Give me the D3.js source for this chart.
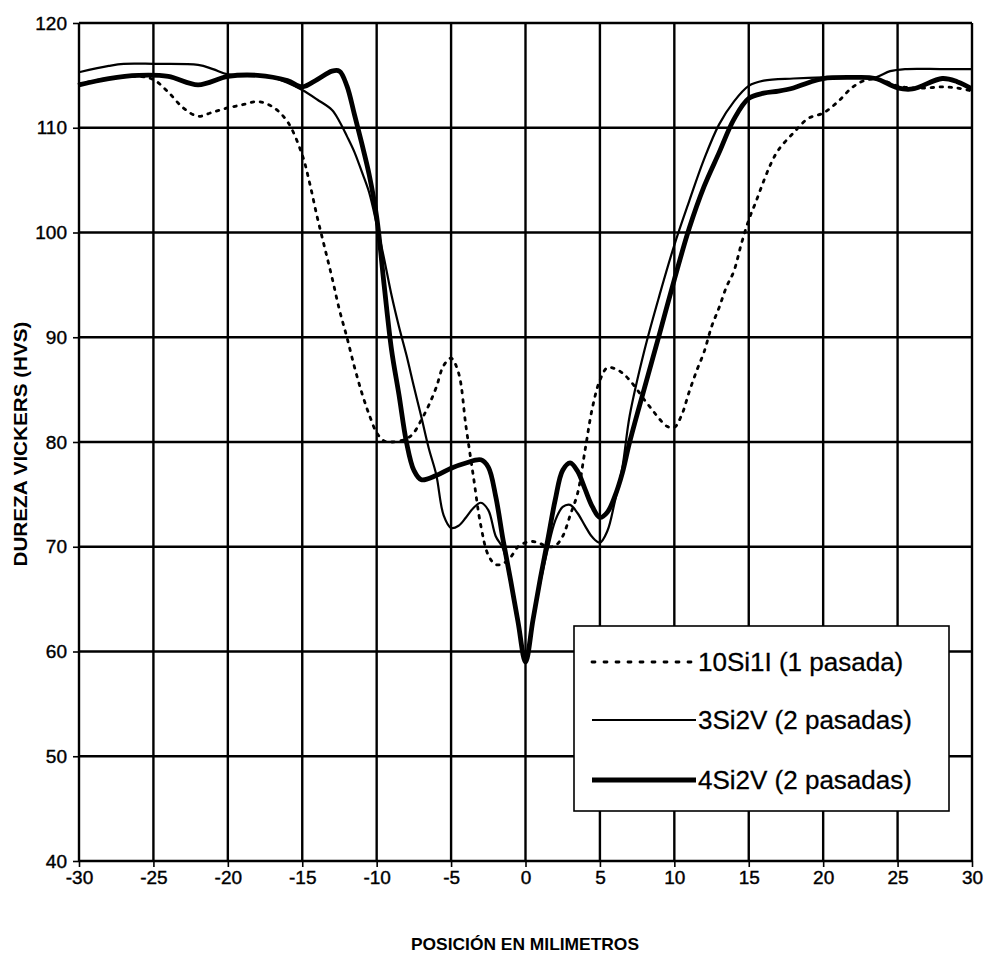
<!DOCTYPE html>
<html>
<head>
<meta charset="utf-8">
<script src="https://cdn.jsdelivr.net/npm/d3@7"></script>
<style>
  html, body { margin: 0; padding: 0; background: #fff; }
  svg { display: block; }
  text { font-family: "Liberation Sans", Arial, sans-serif; fill: #000; }
</style>
</head>
<body>
<svg id="chart" width="986" height="958"></svg>
<script>
// Hardness profiles across the weld (position in mm vs Vickers hardness)
const xTicks = [-30, -25, -20, -15, -10, -5, 0, 5, 10, 15, 20, 25, 30];
const yTicks = [40, 50, 60, 70, 80, 90, 100, 110, 120];

// 10Si1I (1 pasada)
const pos10Si1I = [-30, -28, -26, -25, -24, -23, -22, -21, -20, -19, -18, -17, -16, -15, -14.5, -14, -13.5, -13, -12.5, -12, -11.5, -11, -10.5, -10, -9.5, -9, -8, -7.5, -7, -6.5, -6, -5.5, -5, -4.5, -4, -3.5, -3, -2.5, -2, -1.5, -1, -0.5, 0, 0.5, 1, 1.5, 2, 2.5, 3, 3.5, 4, 4.5, 5, 5.5, 6, 6.5, 7, 7.5, 8, 8.5, 9, 9.5, 10, 10.5, 11, 11.5, 12, 12.5, 13, 13.5, 14, 14.5, 15, 15.5, 16, 16.5, 17, 18, 19, 20, 21, 22, 23, 24, 25, 26, 27, 28, 29, 30];
const hv10Si1I = [114.2, 114.7, 114.9, 114.6, 113.4, 111.9, 111.1, 111.5, 111.9, 112.2, 112.5, 112.0, 110.6, 107.4, 104.7, 101.5, 98.6, 95.7, 92.6, 90.0, 87.2, 84.7, 82.6, 80.9, 80.1, 80.0, 80.3, 80.9, 82.1, 83.5, 85.2, 87.3, 88.0, 86.6, 81.5, 76.7, 72.0, 69.2, 68.3, 68.4, 69.0, 70.0, 70.4, 70.5, 70.3, 70.0, 70.1, 71.0, 73.0, 75.1, 79.2, 83.3, 85.9, 87.1, 87.0, 86.6, 85.9, 85.0, 84.0, 83.1, 82.2, 81.5, 81.4, 82.6, 84.8, 86.8, 88.6, 91.0, 92.8, 94.8, 96.3, 98.9, 101.2, 103.0, 104.9, 106.6, 107.9, 109.5, 110.9, 111.4, 112.5, 113.9, 114.6, 114.5, 114.0, 113.8, 113.8, 113.9, 113.8, 113.5];

// 3Si2V (2 pasadas)
const pos3Si2V = [-30, -28, -27, -25, -22, -21, -20, -18, -17, -16, -15, -14, -13, -12.5, -12, -11.5, -11, -10.5, -10, -9.5, -9, -8.5, -8, -7.5, -7, -6.5, -6, -5.5, -5, -4.5, -4, -3.5, -3, -2.5, -2, -1.5, -1, -0.5, 0, 0.5, 1, 1.5, 2, 2.5, 3, 3.5, 4, 4.5, 5, 5.5, 6, 6.5, 7, 8, 9, 10, 11, 12, 13, 14, 15, 16, 18, 20, 22, 23.5, 24.5, 25.5, 28, 30];
const hv3Si2V = [115.3, 115.9, 116.1, 116.1, 116.0, 115.6, 115.1, 115.0, 114.8, 114.3, 113.6, 112.7, 111.7, 110.6, 109.2, 107.7, 105.8, 103.8, 100.8, 97.5, 94.0, 91.0, 88.3, 85.3, 82.4, 79.4, 76.9, 73.0, 71.8, 72.0, 72.8, 73.7, 74.2, 73.5, 71.0, 69.8, 66.5, 62.6, 59.0, 62.8, 66.6, 69.8, 72.5, 73.8, 74.0, 73.2, 72.0, 70.9, 70.4, 71.5, 74.3, 77.5, 82.5, 88.8, 94.0, 98.8, 103.0, 107.0, 110.3, 112.5, 114.0, 114.5, 114.7, 114.8, 114.8, 114.8, 115.4, 115.6, 115.6, 115.6];

// 4Si2V (2 pasadas)
const pos4Si2V = [-30, -28, -26, -24, -22, -20, -18, -16, -15, -14, -13, -12.5, -12, -11.5, -11, -10.5, -10, -9.5, -9, -8.5, -8, -7.5, -7, -6, -5, -4, -3, -2.5, -2, -1.5, -1, -0.5, 0, 0.5, 1, 1.5, 2, 2.5, 3, 3.5, 4, 4.5, 5, 5.5, 6, 6.5, 7, 8, 9, 10, 11, 12, 13, 14, 15, 16, 17, 18, 19, 20, 22, 23.5, 25, 26, 28, 29, 30];
const hv4Si2V = [114.1, 114.7, 115.0, 114.9, 114.1, 114.9, 115.0, 114.5, 113.9, 114.6, 115.4, 115.4, 114.0, 111.3, 108.5, 105.5, 101.5, 95.0, 88.8, 84.5, 80.0, 77.3, 76.4, 76.8, 77.5, 78.0, 78.3, 77.6, 74.8, 70.6, 66.8, 62.8, 59.0, 63.0, 67.0, 70.7, 74.5, 77.3, 78.0, 77.2, 75.5, 73.8, 72.8, 73.3, 74.8, 77.0, 80.0, 85.2, 90.3, 95.5, 100.4, 104.4, 107.6, 110.8, 112.8, 113.3, 113.5, 113.8, 114.3, 114.7, 114.8, 114.7, 113.8, 113.7, 114.7, 114.4, 113.7];

const seriesNames = ["10Si1I (1 pasada)", "3Si2V (2 pasadas)", "4Si2V (2 pasadas)"];

const svg = d3.select("#chart");
const plot = { left: 79, right: 972, top: 23, bottom: 861 };

const x = d3.scaleLinear().domain([-30, 30]).range([plot.left, plot.right]);
const y = d3.scaleLinear().domain([40, 120]).range([plot.bottom, plot.top]);

// grid
const grid = svg.append("g").attr("stroke", "#000").attr("stroke-width", 2.4);
grid.selectAll("line.v").data(xTicks).join("line")
  .attr("x1", d => x(d)).attr("x2", d => x(d))
  .attr("y1", plot.top).attr("y2", plot.bottom);
grid.selectAll("line.h").data(yTicks).join("line")
  .attr("x1", plot.left).attr("x2", plot.right)
  .attr("y1", d => y(d)).attr("y2", d => y(d));

// axes (plain hyphen for negatives)
const fmt = d => String(d);
const xAxis = d3.axisBottom(x).tickValues(xTicks).tickSize(6).tickPadding(4).tickFormat(fmt);
const yAxis = d3.axisLeft(y).tickValues(yTicks).tickSize(6).tickPadding(6).tickFormat(fmt);

const gx = svg.append("g").attr("transform", `translate(0,${plot.bottom})`).call(xAxis);
const gy = svg.append("g").attr("transform", `translate(${plot.left},0)`).call(yAxis);
[gx, gy].forEach(g => {
  g.select(".domain").remove();
  g.selectAll(".tick line").attr("stroke", "#000").attr("stroke-width", 1.6);
  g.selectAll(".tick text")
    .style("font-size", "19px")
    .attr("fill", "#000")
    .attr("stroke", "#000").attr("stroke-width", 0.4);
});

// curves
const line = d3.line()
  .x(d => x(d[0]))
  .y(d => y(d[1]))
  .curve(d3.curveCatmullRom.alpha(0.5));

const zipped = (xs, ys) => xs.map((v, i) => [v, ys[i]]);

const series = [
  { pts: zipped(pos10Si1I, hv10Si1I), width: 2.8, dash: "2.5,6.5" },
  { pts: zipped(pos3Si2V, hv3Si2V), width: 2.2, dash: null },
  { pts: zipped(pos4Si2V, hv4Si2V), width: 4.8, dash: null }
];

const lines = svg.append("g").attr("fill", "none").attr("stroke", "#000");
series.forEach(s => {
  lines.append("path")
    .attr("d", line(s.pts))
    .attr("stroke-width", s.width)
    .attr("stroke-dasharray", s.dash)
    .attr("stroke-linecap", s.dash ? "round" : "butt")
    .attr("stroke-linejoin", "round");
});

// legend
const legend = svg.append("g");
legend.append("rect")
  .attr("x", 574).attr("y", 626).attr("width", 375).attr("height", 185)
  .attr("fill", "#fff").attr("stroke", "#000").attr("stroke-width", 1.6);
const rowY = [662, 720, 780];
series.forEach((s, i) => {
  legend.append("line")
    .attr("x1", 592).attr("x2", 696)
    .attr("y1", rowY[i]).attr("y2", rowY[i])
    .attr("stroke", "#000")
    .attr("stroke-width", s.width)
    .attr("stroke-dasharray", s.dash ? "3,9" : null)
    .attr("stroke-linecap", s.dash ? "round" : "butt");
  legend.append("text")
    .attr("x", 698).attr("y", rowY[i])
    .attr("dy", "0.36em")
    .style("font-size", "26px")
    .attr("stroke", "#000").attr("stroke-width", 0.3)
    .text(seriesNames[i]);
});

// axis titles
svg.append("text")
  .attr("x", 525).attr("y", 950)
  .attr("text-anchor", "middle")
  .attr("textLength", 228).attr("lengthAdjust", "spacingAndGlyphs")
  .style("font-size", "17px").style("font-weight", "bold")
  .text("POSICIÓN EN MILIMETROS");

svg.append("text")
  .attr("transform", "translate(27,444) rotate(-90)")
  .attr("text-anchor", "middle")
  .attr("textLength", 245).attr("lengthAdjust", "spacingAndGlyphs")
  .style("font-size", "18px").style("font-weight", "bold")
  .text("DUREZA VICKERS (HVS)");
</script>
</body>
</html>
